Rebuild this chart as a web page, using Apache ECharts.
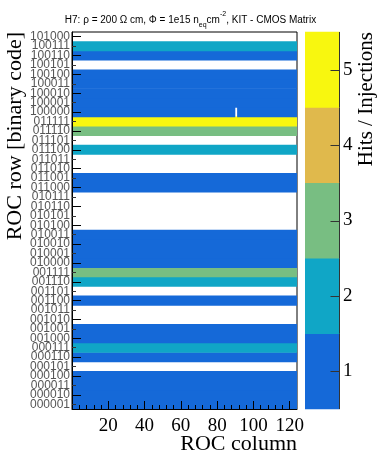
<!DOCTYPE html>
<html><head><meta charset="utf-8">
<script src="https://cdn.jsdelivr.net/npm/echarts@6/dist/echarts.min.js"></script>
<style>html,body{margin:0;padding:0;background:#fff}#c{width:381px;height:455px}</style>
</head><body><div id="c"></div>
<script>
// Row labels, bottom to top
const rowLabels = ['000001','000010','000011','000100','000101','000110','000111','001000',
  '001001','001010','001011','001100','001101','001110','001111','010000',
  '010001','010010','010011','010100','010101','010110','010111','011000',
  '011001','011010','011011','011100','011101','011110','011111','100000',
  '100001','100010','100011','100100','100101','100110','100111','101000'];
// Hits / Injections per row (null = no data)
const rowValues = [1,1,1,1,null,1,2,1,
  1,null,null,1,null,2,3,1,
  1,1,1,null,null,null,null,1,
  1,null,null,2,null,3,5,1,
  1,1,1,1,null,1,2,null];
const columnRange = [0, 124];
const emptyCells = [['100000', 90]]; // [row label, column]
const xTickLabels = [20, 40, 60, 80, 100, 120];
const colorLevels = [1, 2, 3, 4, 5];
const levelColors = ['#1569d8', '#10a6c6', '#78be82', '#e0b94c', '#f8f70f'];

const cells = [];
rowLabels.forEach((lab, i) => {
  const v = rowValues[i];
  if (v == null) return;
  let start = columnRange[0];
  emptyCells.filter(e => e[0] === lab).map(e => e[1]).sort((a,b)=>a-b).forEach(c => {
    if (c > start) cells.push([start, c, i, v]);
    start = c + 1;
  });
  if (start < columnRange[1]) cells.push([start, columnRange[1], i, v]);
});
const barData = colorLevels.map(l => [0, l, l, l]);

const serif = 'Liberation Serif';
const chart = echarts.init(document.getElementById('c'), null, {renderer: 'canvas'});
chart.setOption({
  animation: false,
  backgroundColor: '#fff',
  title: {
    left: 'center', top: 6,
    text: '{a|H7: ρ = 200 Ω cm, Φ = 1e15 n}{s|eq}{a|cm}{p|-2}{a|, KIT - CMOS Matrix}',
    textStyle: {
      fontWeight: 'normal',
      rich: {
        a: {fontFamily: 'Liberation Sans', fontWeight: 'normal', fontSize: 10, color: '#000', lineHeight: 18, verticalAlign: 'middle'},
        s: {fontFamily: 'Liberation Sans', fontWeight: 'normal', fontSize: 7, color: '#000', lineHeight: 18, verticalAlign: 'bottom'},
        p: {fontFamily: 'Liberation Sans', fontWeight: 'normal', fontSize: 7, color: '#000', lineHeight: 18, verticalAlign: 'top'}
      }
    }
  },
  visualMap: {
    type: 'piecewise', show: false, dimension: 3, seriesIndex: [0, 1],
    pieces: colorLevels.map((l, i) => ({gte: l - 0.5, lt: l + 0.5, color: levelColors[i]}))
  },
  grid: [
    {left: 72, top: 32, width: 225, height: 377, show: true, borderColor: '#000', borderWidth: 1, backgroundColor: 'transparent'},
    {left: 305, top: 32, width: 35, height: 377}
  ],
  xAxis: [
    {gridIndex: 0, type: 'value', min: columnRange[0], max: columnRange[1], interval: 20, z: 10,
      axisLine: {show: true, onZero: false, lineStyle: {color: '#000'}},
      axisTick: {show: true, inside: true, length: 8, customValues: xTickLabels, lineStyle: {color: '#000'}},
      minorTick: {show: true, splitNumber: 5, length: 4, lineStyle: {color: '#000'}},
      splitLine: {show: false},
      axisLabel: {customValues: xTickLabels, fontFamily: serif, fontSize: 19, color: '#000', margin: 8}
    },
    {gridIndex: 1, type: 'category', data: [0], boundaryGap: true, show: false}
  ],
  yAxis: [
    {gridIndex: 0, type: 'category', data: rowLabels, boundaryGap: true, z: 10,
      axisLine: {show: true, onZero: false, lineStyle: {color: '#000'}},
      axisTick: {show: true, inside: true, length: 4, alignWithLabel: true, interval: 0, lineStyle: {color: '#333'}},
      axisLabel: {interval: 0, fontFamily: 'Liberation Sans', fontSize: 12, color: '#555', margin: 2},
      splitLine: {show: false}
    },
    {gridIndex: 0, type: 'category', data: rowLabels, boundaryGap: true, position: 'left', z: 10,
      axisLine: {show: false, onZero: false},
      axisTick: {show: true, inside: true, length: 9, alignWithLabel: true, interval: (i) => i % 2 === 1, lineStyle: {color: '#000'}},
      axisLabel: {show: false}, splitLine: {show: false}
    },
    {gridIndex: 1, type: 'value', min: 0.5, max: 5.5, position: 'right', z: 10,
      axisLine: {show: false, onZero: false},
      axisTick: {show: false},
      axisLabel: {customValues: colorLevels, fontFamily: serif, fontSize: 19, color: '#000', margin: 3},
      splitLine: {show: false}
    }
  ],
  graphic: [
    {type: 'text', x: 15, y: 32, rotation: Math.PI / 2,
      style: {text: 'ROC row [binary code]', font: '22px "Liberation Serif"', fill: '#000', textAlign: 'right', textVerticalAlign: 'middle'}},
    {type: 'text', x: 297, y: 444,
      style: {text: 'ROC column', font: '22px "Liberation Serif"', fill: '#000', textAlign: 'right', textVerticalAlign: 'middle'}},
    {type: 'text', x: 366, y: 32, rotation: Math.PI / 2,
      style: {text: 'Hits / Injections', font: '21px "Liberation Serif"', fill: '#000', textAlign: 'right', textVerticalAlign: 'middle'}}
  ],
  series: [
    {type: 'custom', xAxisIndex: 0, yAxisIndex: 0, clip: true, data: cells, z: 1,
      encode: {x: [0, 1], y: 2},
      renderItem: (params, api) => {
        const a = api.coord([api.value(0), api.value(2)]);
        const b = api.coord([api.value(1), api.value(2)]);
        const h = api.size([0, 1])[1];
        return {type: 'rect', shape: {x: a[0], y: a[1] - h / 2 - 0.3, width: b[0] - a[0], height: h + 0.6},
          style: {fill: api.visual('color')}};
      }
    },
    {type: 'custom', xAxisIndex: 1, yAxisIndex: 2, data: barData, z: 1,
      encode: {x: 0, y: 1},
      renderItem: (params, api) => {
        const lo = api.coord([api.value(0), api.value(1) - 0.5]);
        const mid = api.coord([api.value(0), api.value(1)]);
        const hi = api.coord([api.value(0), api.value(1) + 0.5]);
        const w = api.size([1, 0])[0];
        const right = Math.round(lo[0] + w / 2) - 0.5;
        const my = Math.round(mid[1]) + 0.5;
        return {type: 'group', children: [
          {type: 'rect', shape: {x: lo[0] - w / 2, y: hi[1] - 0.3, width: w, height: lo[1] - hi[1] + 0.6},
            style: {fill: api.visual('color')}},
          {type: 'line', z2: 5, shape: {x1: right - 9, y1: my, x2: right, y2: my}, style: {stroke: '#333', lineWidth: 1}},
          {type: 'line', z2: 5, shape: {x1: right, y1: hi[1], x2: right, y2: lo[1]}, style: {stroke: '#333', lineWidth: 1}}
        ]};
      }
    }
  ]
});
</script>
</body></html>
